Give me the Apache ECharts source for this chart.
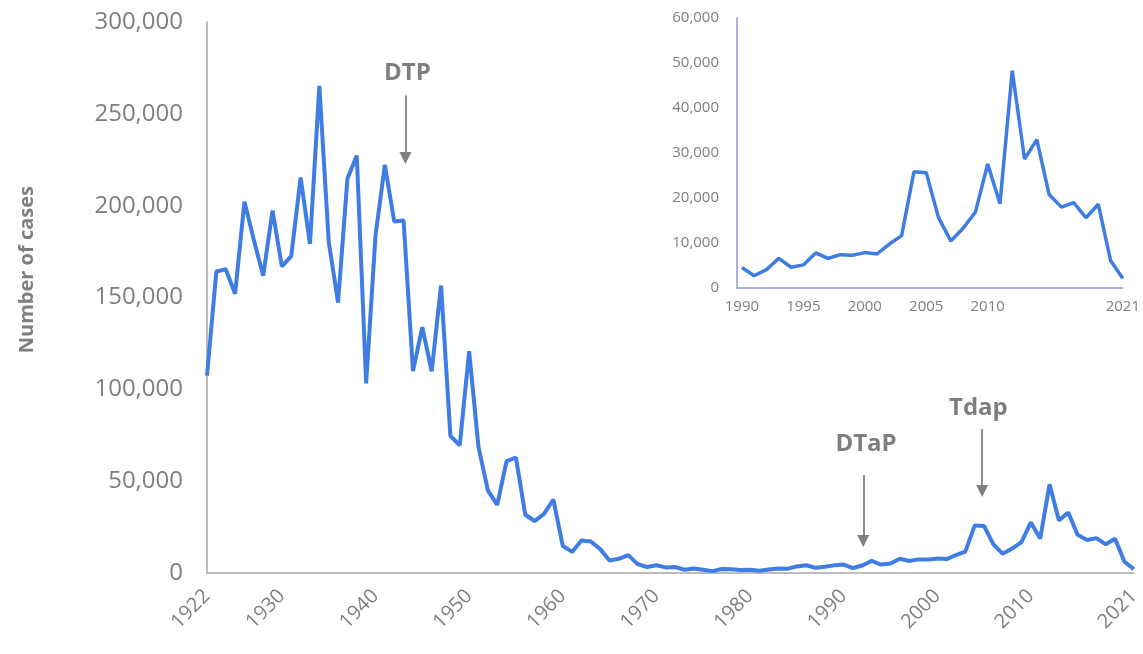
<!DOCTYPE html>
<html>
<head>
<meta charset="utf-8">
<script src="https://cdn.jsdelivr.net/npm/echarts@6/dist/echarts.min.js"></script>
<style>
html,body{margin:0;padding:0;background:#fff;}
#chart{width:1143px;height:654px;}
</style>
</head>
<body>
<div id="chart"></div>
<script>
// ---- data ----
var startYear = 1922;
var cases1922to1989 = [
  107473,164191,165418,152003,202210,181411,161799,197371,166914,172559,
  215343,179135,265269,180518,147237,214652,227319,103188,183866,222202,
  191383,191890,109873,133792,109860,156517,74715,69479,120718,68687,
  45030,37129,60886,62786,31732,28295,32148,40005,14809,11468,
  17749,17135,13005,6799,7717,9718,4810,3285,4249,3036,
  3287,1759,2402,1738,1010,2177,2063,1623,1730,1248,
  1895,2463,2276,3589,4195,2823,3450,4157
];
var insetStartYear = 1990;
var cases1990to2021 = [
  4570,2719,4083,6586,4617,5137,7796,6564,7405,7288,
  7867,7580,9771,11647,25827,25616,15632,10454,13278,16858,
  27550,18719,48277,28639,32971,20762,17972,18975,15609,18617,
  6124,2116
];
var mainXTicks = [1922,1930,1940,1950,1960,1970,1980,1990,2000,2010,2021];
var insetXTicks = [1990,1995,2000,2005,2010,2021];
var annotations = [
  {name:'DTP',  year:1943.2, from:260000, to:226000, textYear:1943.4, textValue:272000},
  {name:'DTaP', year:1992.1, from:53400,  to:17400,  textYear:1992.4, textValue:70200},
  {name:'Tdap', year:2004.8, from:78400,  to:44700,  textYear:2004.4, textValue:89500}
];

// ---- build ----
var allCases = cases1922to1989.concat(cases1990to2021);
var mainData = [];
for (var i = 0; i < allCases.length; i++) mainData.push([startYear + i, allCases[i]]);
var insetData = [];
for (var j = 0; j < cases1990to2021.length; j++) insetData.push([insetStartYear + j, cases1990to2021[j]]);

function fmt(v){ return String(v).replace(/\B(?=(\d{3})+(?!\d))/g, ','); }

var gray = '#7f7f7f';
var lineColor = '#3f7de4';
var font = 'Open Sans';

var chart = echarts.init(document.getElementById('chart'), null, {renderer:'canvas'});
chart.setOption({
  animation:false,
  backgroundColor:'#fff',
  textStyle:{fontFamily:font},
  grid:[
    {left:207, right:6, top:22, bottom:81},
    {left:737, right:20, top:18, bottom:366}
  ],
  xAxis:[
    {type:'value', gridIndex:0, min:1922, max:2021,
     axisLine:{show:true, lineStyle:{color:'#a6a6a6', width:1.5}},
     axisTick:{show:false},
     splitLine:{show:false},
     axisLabel:{customValues:mainXTicks, rotate:45, fontSize:20, color:gray, margin:20, fontFamily:font,
                formatter:function(v){return String(v);}}
    },
    {type:'value', gridIndex:1, min:1989.6, max:2021,
     axisLine:{show:true, lineStyle:{color:'#8e9bd2', width:1.5}},
     axisTick:{show:false},
     splitLine:{show:false},
     axisLabel:{customValues:insetXTicks, fontSize:15, color:gray, margin:11, fontFamily:font,
                formatter:function(v){return String(v);}}
    }
  ],
  yAxis:[
    {type:'value', gridIndex:0, min:0, max:300000, interval:50000,
     axisLine:{show:true, lineStyle:{color:'#a6a6a6', width:1.5}},
     axisTick:{show:false},
     splitLine:{show:false},
     axisLabel:{fontSize:24, color:gray, margin:24, fontFamily:font, formatter:fmt}
    },
    {type:'value', gridIndex:1, min:0, max:60000, interval:10000,
     axisLine:{show:true, lineStyle:{color:'#8e9bd2', width:1.5}},
     axisTick:{show:false},
     splitLine:{show:false},
     axisLabel:{fontSize:15, color:gray, margin:18, fontFamily:font, formatter:fmt}
    }
  ],
  graphic:[
    {type:'text', left:17, top:186, rotation:Math.PI/2,
     style:{text:'Number of cases', fill:gray, font:'bold 20px "Open Sans"'},
     originX:0, originY:0}
  ],
  series:[
    {type:'line', xAxisIndex:0, yAxisIndex:0, data:mainData, showSymbol:false, symbol:'none',
     lineStyle:{color:lineColor, width:4}, silent:true,
     markLine:{silent:true, symbol:['none','triangle'], symbolSize:[12,12],
       label:{show:false},
       lineStyle:{color:gray, width:1.8, type:'solid'},
       data:annotations.map(function(a){return [{coord:[a.year,a.from]},{coord:[a.year,a.to]}];})
     },
     markPoint:{silent:true, symbol:'circle', symbolSize:0,
       label:{show:true, position:'inside', formatter:'{b}', color:gray, fontSize:24, fontWeight:'bold', fontFamily:font},
       data:annotations.map(function(a){return {name:a.name, coord:[a.textYear,a.textValue]};})
     }
    },
    {type:'line', xAxisIndex:1, yAxisIndex:1, data:insetData, showSymbol:false, symbol:'none',
     lineStyle:{color:lineColor, width:3.5}, silent:true}
  ]
});
</script>
</body>
</html>
